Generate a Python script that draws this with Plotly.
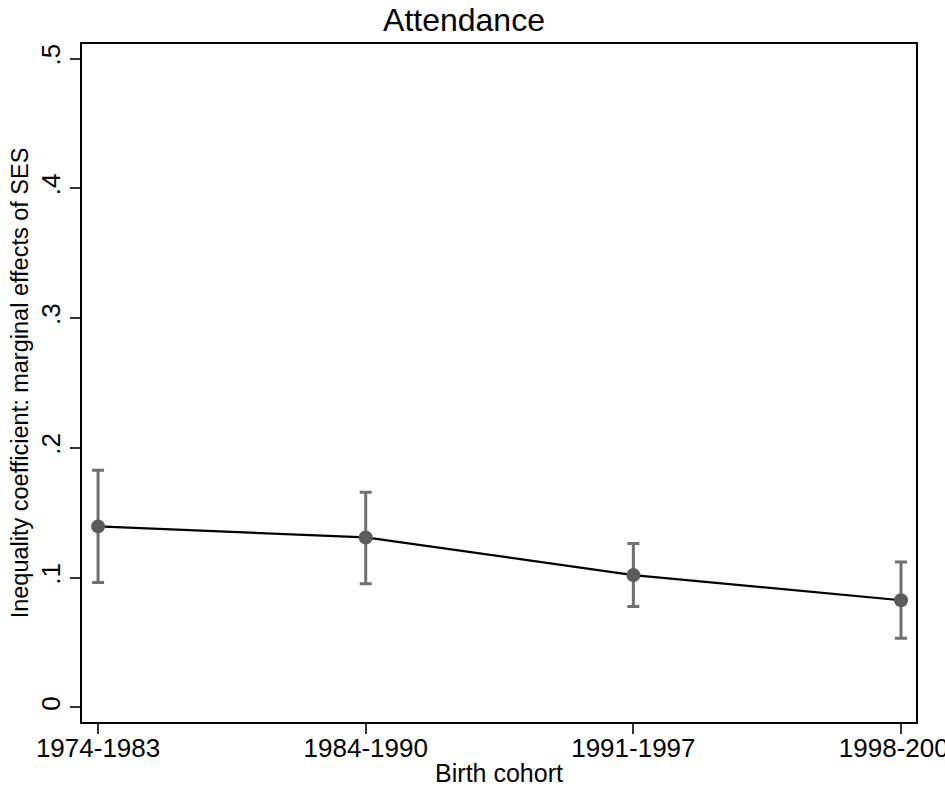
import plotly.graph_objects as go

cohorts = ["1974-1983", "1984-1990", "1991-1997", "1998-2004"]
coef = [0.1395, 0.131, 0.102, 0.0826]
ci_upper = [0.1828, 0.1659, 0.1264, 0.112]
ci_lower = [0.0962, 0.0954, 0.0777, 0.0533]

y_tickvals = [0, 0.1, 0.2, 0.3, 0.4, 0.5]
y_ticktext = ["0", ".1", ".2", ".3", ".4", ".5"]

err_plus = [u - c for u, c in zip(ci_upper, coef)]
err_minus = [c - l for c, l in zip(coef, ci_lower)]

FONT = "Liberation Sans, Arial, Helvetica, sans-serif"

fig = go.Figure()
fig.add_trace(go.Scatter(
    x=cohorts, y=coef,
    mode="lines+markers",
    line=dict(color="black", width=2.2),
    marker=dict(color="#5c5c5c", size=14),
    error_y=dict(type="data", symmetric=False, array=err_plus, arrayminus=err_minus,
                 color="#707070", thickness=3, width=6),
    showlegend=False,
))

fig.update_layout(
    width=945, height=788,
    margin=dict(l=82, r=29, t=44, b=66),
    paper_bgcolor="white", plot_bgcolor="white",
    font=dict(family=FONT, size=26, color="black"),
    title=dict(text="Attendance", x=0.491, xanchor="center", y=0.975, yanchor="middle",
               font=dict(size=32, color="black", family=FONT), automargin=False),
)
fig.update_xaxes(
    type="category", range=[-0.06, 3.056], automargin=False,
    showgrid=False, zeroline=False,
    showline=True, mirror=True, linecolor="black", linewidth=2,
    ticks="outside", ticklen=10, tickwidth=1.5, tickcolor="#333333",
    tickfont=dict(size=26, color="black"), ticklabelstandoff=-8,
    title=dict(text="Birth cohort", font=dict(size=25, color="black"), standoff=2),
)
fig.update_yaxes(
    range=[-0.0112, 0.5112], automargin=False,
    tickvals=y_tickvals, ticktext=y_ticktext, tickangle=-90,
    showgrid=False, zeroline=False,
    showline=True, mirror=True, linecolor="black", linewidth=2,
    ticks="outside", ticklen=10, tickwidth=1.5, tickcolor="#333333",
    tickfont=dict(size=26, color="black"),
    title=dict(text="Inequality coefficient: marginal effects of SES",
               font=dict(size=23.5, color="black"), standoff=0),
)

fig.write_html("out.html")
